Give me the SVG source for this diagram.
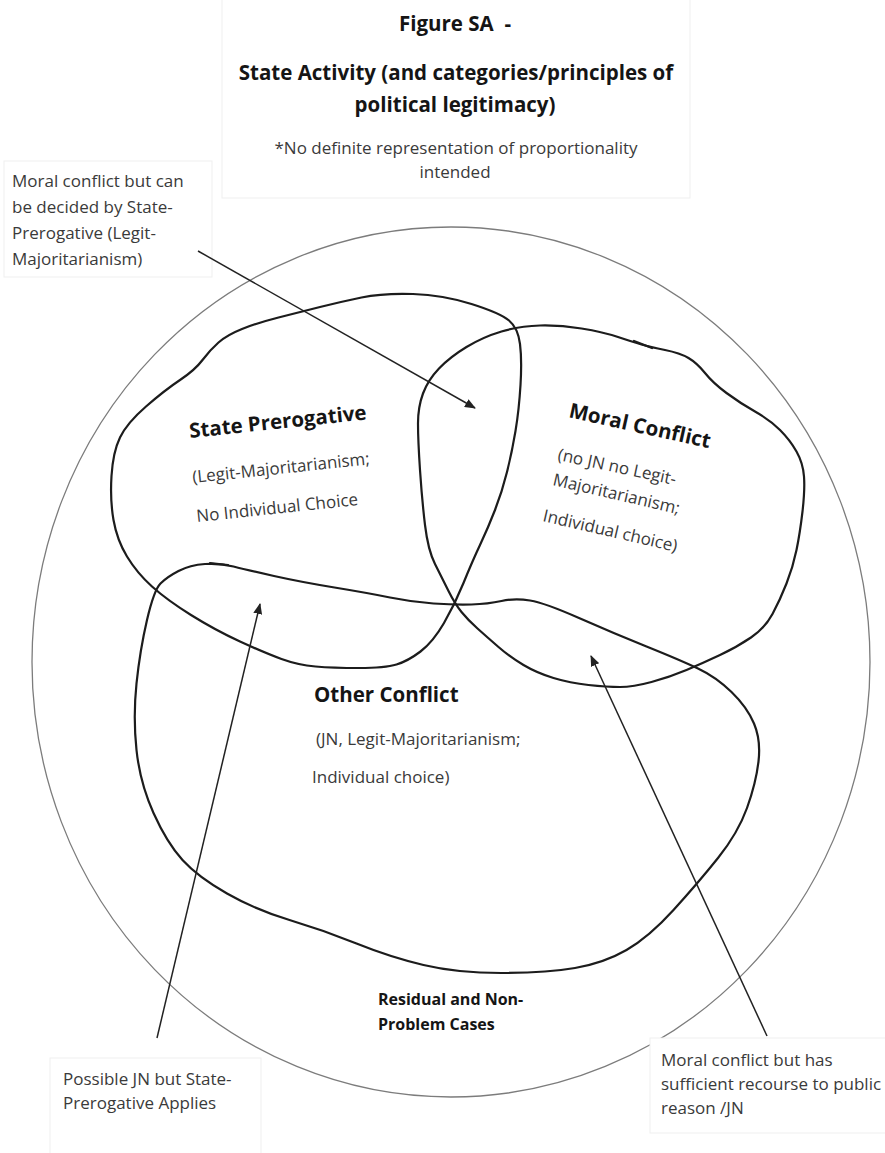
<svg xmlns="http://www.w3.org/2000/svg" width="885" height="1153" viewBox="0 0 885 1153">
<style>
.bg{fill:#ffffff}
.box{fill:#ffffff;stroke:#efefef;stroke-width:1}
.blob{fill:none;stroke:#1c1c1c;stroke-width:2.2;stroke-linejoin:round;stroke-linecap:round}
.outer{fill:none;stroke:#7c7c7c;stroke-width:1.3}
.arrow{fill:none;stroke:#222;stroke-width:1.5}
.t{font-family:"Open Sans","Liberation Sans",sans-serif;fill:#3a3a3a;font-size:17px}
.b{font-family:"Open Sans","Liberation Sans",sans-serif;fill:#151515;font-weight:bold}
.h{font-size:20.5px}
.n{font-size:20.5px}
.s{font-size:16px}
</style>
<defs>
<marker id="ah" markerUnits="userSpaceOnUse" markerWidth="11" markerHeight="9" refX="10" refY="4.5" orient="auto">
<path d="M0,0 L11,4.5 L0,9 Z" fill="#222"/>
</marker>
</defs>
<rect class="bg" x="0" y="0" width="885" height="1153"/>

<g id="title">
<rect class="box" x="222" y="-1" width="468" height="199"/>
<text class="b h" x="455" y="31" text-anchor="middle">Figure SA&#160; -</text>
<text class="b h" x="456" y="80" text-anchor="middle">State Activity (and categories/principles of</text>
<text class="b h" x="455" y="112" text-anchor="middle">political legitimacy)</text>
<text class="t" x="456" y="154" text-anchor="middle">*No definite representation of proportionality</text>
<text class="t" x="455" y="178" text-anchor="middle">intended</text>
</g>

<g id="outer-circle">
<ellipse class="outer" cx="451" cy="662" rx="419" ry="435"/>
<text class="b s" x="378" y="1005">Residual and Non-</text>
<text class="b s" x="378" y="1030">Problem Cases</text>
</g>

<g id="state-prerogative">
<path class="blob" d="M 278.5,317.5 Q 300,312 320,307 Q 340,302 361.5,297.5 Q 383,293 413,294 Q 443,295 471.5,304 Q 500,313 509,320.5 Q 518,328 520,344 Q 522,360 520.5,385 Q 519,410 515.5,431 Q 512,452 507,472 Q 502,492 495,510 Q 488,528 480,545 Q 472,562 463.5,583 Q 455,604 444,623 Q 433,642 420.5,651.5 Q 408,661 396.5,664.5 Q 385,668 359,668 Q 333,668 315.5,666.5 Q 298,665 281.5,659 Q 265,653 240,641.5 Q 215,630 191,615 Q 167,600 152,586.5 Q 137,573 127,556.5 Q 117,540 113.5,520 Q 110,500 111.5,476 Q 113,452 120,437.5 Q 127,423 146,406.5 Q 165,390 180,380 Q 195,370 202.5,360 Q 210,350 218.5,342.5 Q 227,335 242,329 Q 257,323 278.5,317.5 Z"/>
<text class="b n" x="190" y="438" transform="rotate(-6 190 438)">State Prerogative</text>
<text class="t" x="193" y="483" transform="rotate(-6 193 483)">(Legit-Majoritarianism;</text>
<text class="t" x="197" y="522" transform="rotate(-6 197 522)">No Individual Choice</text>
</g>

<g id="moral-conflict">
<path class="blob" d="M 423,393.5 Q 428,380 439,368.5 Q 450,357 466.5,347 Q 483,337 501.5,331.5 Q 520,326 540,325.5 Q 560,325 581.5,328.5 Q 603,332 618,337 Q 633,342 641.5,344.5 Q 650,347 665,350 Q 680,353 688.5,358 Q 697,363 705,373 Q 713,383 726.5,393 Q 740,403 755,411.5 Q 770,420 780,430 Q 790,440 796.5,451.5 Q 803,463 804,476.5 Q 805,490 802.5,511.5 Q 800,533 796.5,550 Q 793,567 786.5,583.5 Q 780,600 772.5,614 Q 765,628 751,637.5 Q 737,647 720,655 Q 703,663 686.5,670 Q 670,677 651.5,682 Q 633,687 620,687 Q 607,687 588.5,685 Q 570,683 553.5,678 Q 537,673 523.5,665 Q 510,657 498.5,647 Q 487,637 477.5,628.5 Q 468,620 461.5,612 Q 455,604 448.5,591 Q 442,578 435,564 Q 428,550 425,525 Q 422,500 420,470 Q 418,440 418,423.5 Q 418,407 423,393.5 Z"/>
<path class="blob" d="M 634,341 L 652,348"/>
<text class="b n" x="568" y="417" transform="rotate(12.5 568 417)">Moral Conflict</text>
<text class="t" x="557" y="460" transform="rotate(12 557 460)">(no JN no Legit-</text>
<text class="t" x="552" y="485" transform="rotate(13 552 485)">Majoritarianism;</text>
<text class="t" x="542" y="521" transform="rotate(13 542 521)">Individual choice)</text>
</g>

<g id="other-conflict">
<path class="blob" d="M 205,564 Q 220,563 233.5,566.5 Q 247,570 274,576 Q 301,582 334.5,587.5 Q 368,593 390,597.5 Q 412,602 433.5,603.5 Q 455,605 471.5,604.5 Q 488,604 501.5,601 Q 515,598 530,600.5 Q 545,603 579,618 Q 613,633 646.5,646.5 Q 680,660 698,668.5 Q 716,677 731.5,692 Q 747,707 754,723.5 Q 761,740 758.5,761.5 Q 756,783 747,808 Q 738,833 718,858 Q 698,883 673.5,910 Q 649,937 626.5,950 Q 604,963 575,968 Q 546,973 501.5,973 Q 457,973 423.5,965 Q 390,957 356.5,943.5 Q 323,930 289.5,920 Q 256,910 227,893.5 Q 198,877 182.5,860 Q 167,843 153.5,813 Q 140,783 136.5,750 Q 133,717 136.5,683.5 Q 140,650 147,620 Q 154,590 160.5,583.5 Q 167,577 178.5,571 Q 190,565 205,564 Z"/>
<path class="blob" d="M 210,563 L 228,565"/>
<text class="b n" x="314" y="702">Other Conflict</text>
<text class="t" x="316" y="745">(JN, Legit-Majoritarianism;</text>
<text class="t" x="312" y="783">Individual choice)</text>
</g>

<g id="note-top-left">
<rect class="box" x="4" y="161" width="208" height="116"/>
<text class="t" x="12" y="187">Moral conflict but can</text>
<text class="t" x="12" y="213">be decided by State-</text>
<text class="t" x="12" y="239">Prerogative (Legit-</text>
<text class="t" x="12" y="265">Majoritarianism)</text>
</g>

<g id="note-bottom-left">
<rect class="box" x="50" y="1058" width="211" height="100"/>
<text class="t" x="63" y="1085">Possible JN but State-</text>
<text class="t" x="63" y="1109">Prerogative Applies</text>
</g>

<g id="note-bottom-right">
<rect class="box" x="650" y="1038" width="240" height="95"/>
<text class="t" x="661" y="1066">Moral conflict but has</text>
<text class="t" x="661" y="1090">sufficient recourse to public</text>
<text class="t" x="661" y="1114">reason /JN</text>
</g>

<g id="connectors">
<line class="arrow" x1="198" y1="251" x2="475" y2="408" marker-end="url(#ah)"/>
<line class="arrow" x1="157" y1="1038" x2="260" y2="604" marker-end="url(#ah)"/>
<line class="arrow" x1="767" y1="1036" x2="591" y2="656" marker-end="url(#ah)"/>
</g>
</svg>
